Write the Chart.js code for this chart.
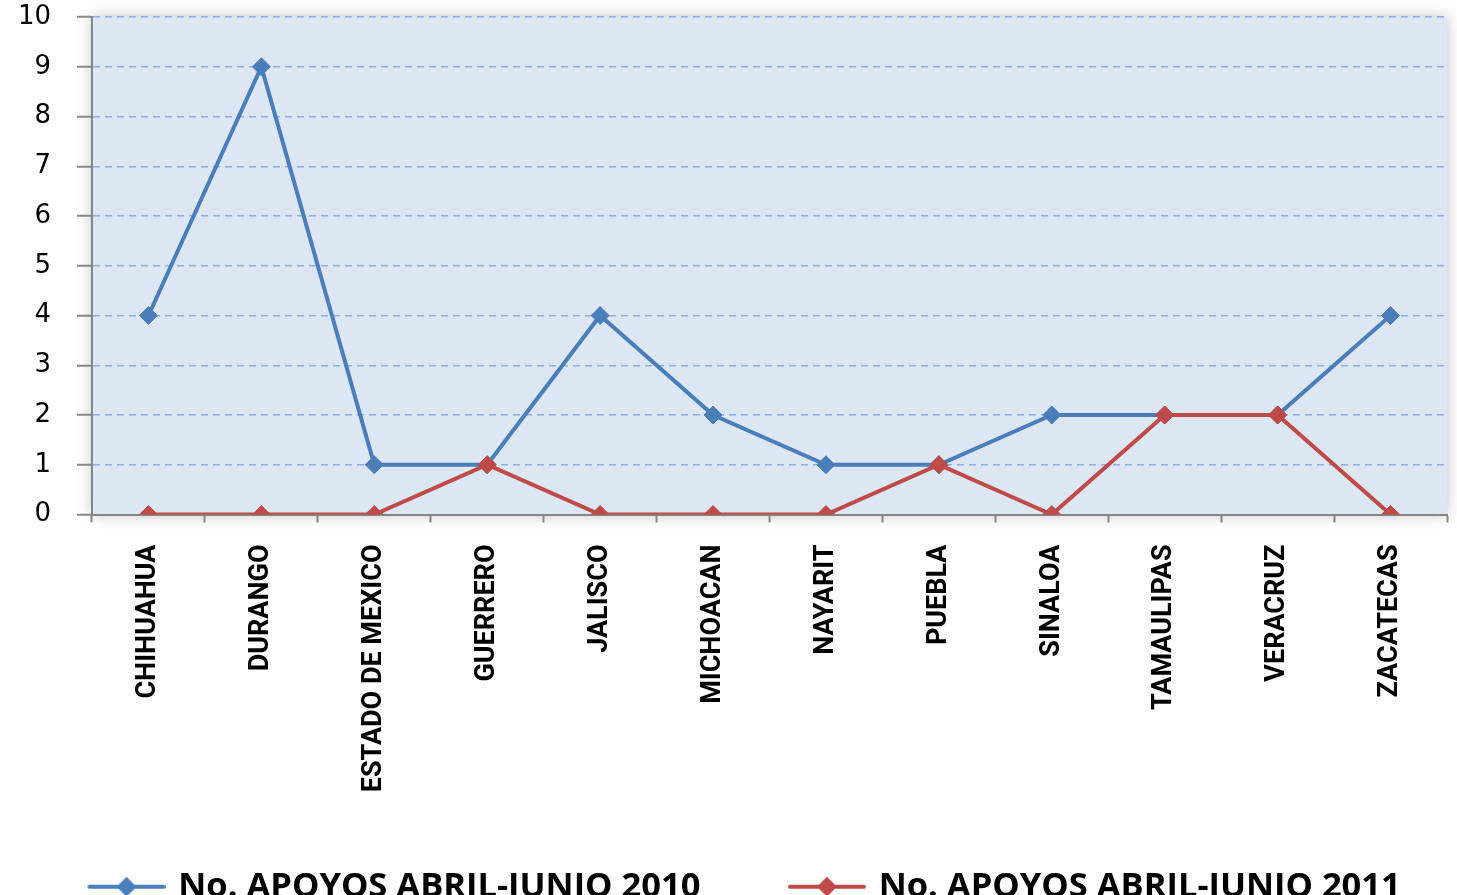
<!DOCTYPE html>
<html>
<head>
<meta charset="utf-8">
<script src="https://cdn.jsdelivr.net/npm/chart.js@4.4.1/dist/chart.umd.min.js"></script>
<style>
  html, body { margin: 0; padding: 0; background: #fff; overflow: hidden; }
  #wrap { width: 1457px; height: 895px; position: relative; }
</style>
</head>
<body>
<div id="wrap"><canvas id="graphic"></canvas></div>
<script>
const states = ['CHIHUAHUA', 'DURANGO', 'ESTADO DE MEXICO', 'GUERRERO', 'JALISCO', 'MICHOACAN',
  'NAYARIT', 'PUEBLA', 'SINALOA', 'TAMAULIPAS', 'VERACRUZ', 'ZACATECAS'];
const apoyos2010 = [4, 9, 1, 1, 4, 2, 1, 1, 2, 2, 2, 4];
const apoyos2011 = [0, 0, 0, 1, 0, 0, 0, 1, 0, 2, 2, 0];
const yTicks = [0, 1, 2, 3, 4, 5, 6, 7, 8, 9, 10];

const BLUE = '#4a7ebb';
const RED = '#be4b48';
const AXIS = '#868686';

// legend marker: line with a diamond, sitting in the right part of a wider box
function legendMarker(color) {
  const c = document.createElement('canvas');
  c.width = 140; c.height = 22;
  const ctx = c.getContext('2d');
  ctx.strokeStyle = color;
  ctx.lineWidth = 4;
  ctx.lineCap = 'round';
  ctx.beginPath();
  ctx.moveTo(64, 11); ctx.lineTo(138, 11);
  ctx.stroke();
  ctx.fillStyle = color;
  ctx.beginPath();
  ctx.moveTo(101 - 10, 11); ctx.lineTo(101, 1); ctx.lineTo(101 + 10, 11); ctx.lineTo(101, 21);
  ctx.closePath();
  ctx.fill();
  return c;
}

const plotBackground = {
  id: 'plotBackground',
  afterLayout(chart) {
    // rotated labels may run below the x scale box
    chart.scales.x.bottom = chart.height;
  },
  beforeDraw(chart) {
    const { ctx, chartArea: a } = chart;
    ctx.save();
    ctx.shadowColor = 'rgba(0,0,0,0.25)';
    ctx.shadowBlur = 14;
    ctx.fillStyle = '#dde6f3';
    ctx.fillRect(a.left, a.top, a.right - a.left, a.bottom - a.top);
    ctx.restore();
  }
};

const graphic = document.getElementById('graphic');

const graphicControler = new Chart(graphic, {
  type: 'line',
  data: {
    labels: states,
    datasets: [
      {
        label: 'No. APOYOS ABRIL-JUNIO 2010',
        data: apoyos2010,
        order: 1,
        borderColor: BLUE,
        backgroundColor: BLUE,
        borderWidth: 4,
        tension: 0,
        pointStyle: 'rectRot',
        pointRadius: 9,
        pointBorderWidth: 1,
        pointBackgroundColor: BLUE,
        pointBorderColor: BLUE,
        legendMarker: legendMarker(BLUE),
      },
      {
        label: 'No. APOYOS ABRIL-JUNIO 2011',
        data: apoyos2011,
        order: 0,
        borderColor: RED,
        backgroundColor: RED,
        borderWidth: 4,
        tension: 0,
        pointStyle: 'rectRot',
        pointRadius: 9,
        pointBorderWidth: 1,
        pointBackgroundColor: RED,
        pointBorderColor: RED,
        legendMarker: legendMarker(RED),
      },
    ],
  },
  options: {
    responsive: true,
    maintainAspectRatio: false,
    animation: false,
    layout: { padding: { left: 0, right: 4, top: 17, bottom: -19 } },
    plugins: {
      tooltip: { enabled: false },
      legend: {
        position: 'bottom',
        align: 'start',
        labels: {
          usePointStyle: true,
          pointStyleWidth: 131,
          padding: 30,
          color: '#000',
          font: { family: '"Open Sans", sans-serif', weight: 'bold', size: 34.5 },
          sort: (a, b) => a.datasetIndex - b.datasetIndex,
          generateLabels(chart) {
            return chart.data.datasets.map((ds, i) => ({
              text: ds.label,
              datasetIndex: i,
              pointStyle: ds.legendMarker,
              fillStyle: ds.borderColor,
              strokeStyle: ds.borderColor,
              lineWidth: 0,
              fontColor: '#000',
              hidden: false,
            }));
          },
        },
      },
    },
    scales: {
      x: {
        offset: true,
        afterFit(scale) {
          scale.height = 325;
          scale.paddingLeft = 0;
          scale.paddingRight = 0;
        },
        border: { display: true, color: AXIS, width: 2 },
        grid: {
          display: true,
          offset: true,
          drawOnChartArea: false,
          drawTicks: true,
          tickLength: 8,
          tickColor: AXIS,
          tickWidth: 2,
        },
        ticks: {
          autoSkip: false,
          minRotation: 90,
          maxRotation: 90,
          padding: 22,
          color: '#000',
          font: { family: 'Roboto, sans-serif', weight: 'bold', size: 27 },
        },
      },
      y: {
        min: 0,
        max: 10,
        afterFit(scale) {
          scale.width = 92;
          scale.paddingTop = 0;
          scale.paddingBottom = 0;
        },
        afterBuildTicks(scale) { scale.ticks = yTicks.map(v => ({ value: v })); },
        border: { display: true, color: AXIS, width: 2, dash: [7, 5] },
        grid: {
          color: '#8eaee0',
          lineWidth: 1.5,
          tickLength: 15,
          tickColor: AXIS,
          tickWidth: 2,
          tickBorderDash: [],
        },
        ticks: {
          padding: 26,
          color: '#000',
          font: { family: '"DejaVu Sans", Verdana, sans-serif', size: 26 },
        },
      },
    },
  },
  plugins: [plotBackground],
});
</script>
</body>
</html>
